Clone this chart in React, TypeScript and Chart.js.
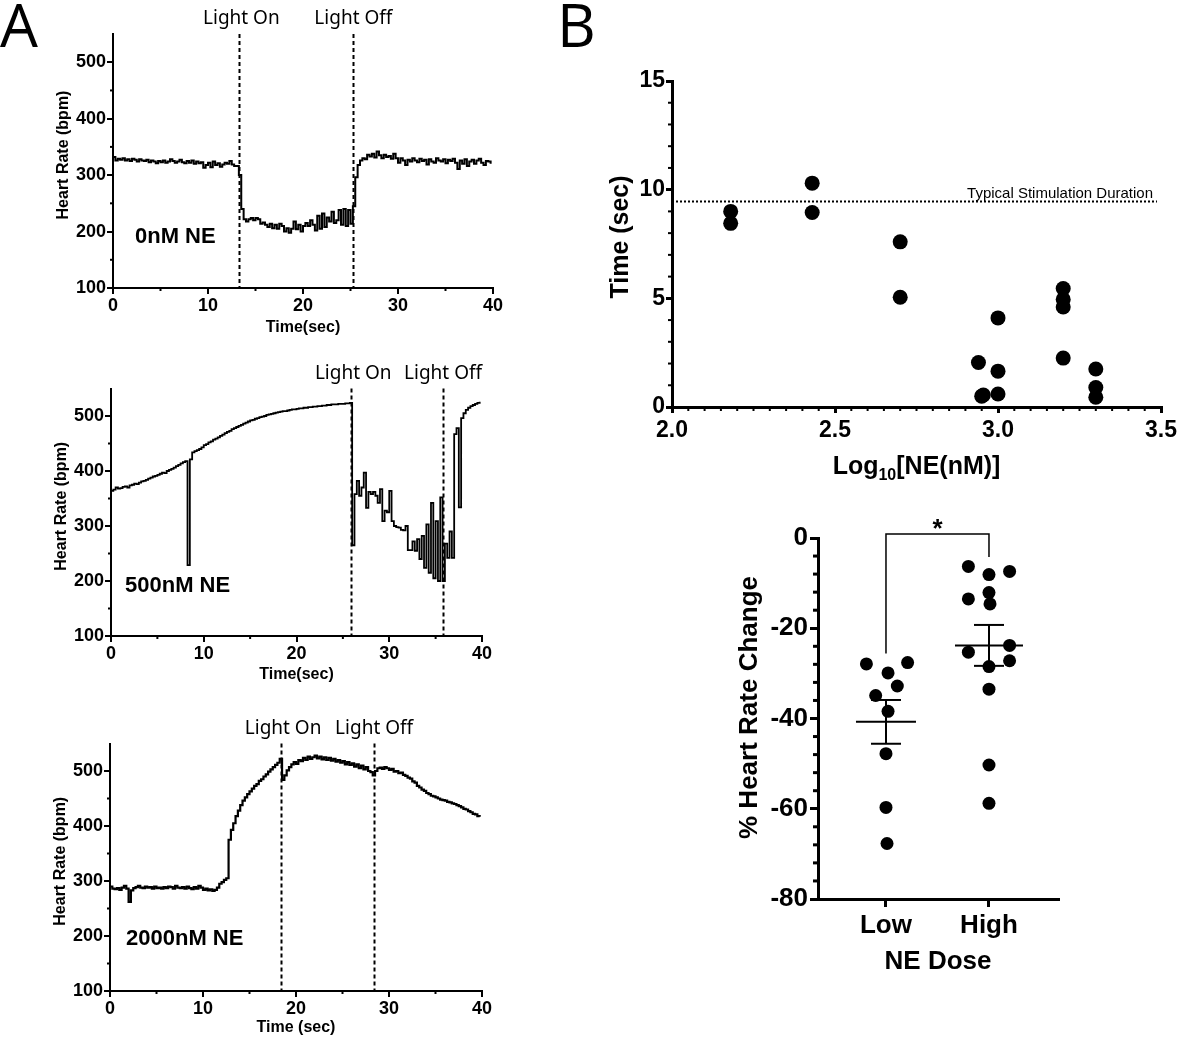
import React, { useEffect, useRef } from "react";
import { Chart, registerables } from "chart.js";
Chart.register(...registerables);

const SANS = '"Liberation Sans", Arial, sans-serif';
const HUMAN = '"Noto Sans", "Open Sans", sans-serif';

// ---------- Panel A data (heart rate, bpm, sampled every SAMPLE_DT s) ----------
const SAMPLE_DT = 0.25;
const hr0nM = [
  332, 326, 329, 327, 330, 326, 328, 325,
  329, 327, 324, 328, 326, 325, 327, 323,
  326, 324, 321, 325, 323, 326, 322, 324,
  328, 325, 322, 324, 327, 323, 321, 325,
  322, 326, 320, 324, 321, 323, 313, 318,
  322, 314, 324, 318, 321, 315, 319, 322,
  320, 325, 319, 316, 316, 300, 240, 222,
  218, 222, 224, 220, 224, 222, 214, 216,
  212, 208, 214, 206, 212, 205, 214, 210,
  200, 206, 198, 205, 218, 204, 212, 200,
  210, 215, 210, 220, 212, 202, 228, 205,
  232, 208, 225, 218, 235, 215, 220, 238,
  212, 240, 210, 238, 214, 245, 296, 318,
  326, 330, 328, 336, 333, 338, 331, 342,
  335, 330, 336, 332, 334, 329, 338, 330,
  322, 330, 326, 318, 327, 324, 330, 326,
  323, 329, 325, 327, 319, 328, 324, 322,
  330, 326, 324, 328, 321, 327, 325, 329,
  322, 311, 326, 320, 328, 316, 324, 327,
  320, 326, 329, 322, 318, 325, 324, 320,
];
const hr500nM = [
  364, 366, 370, 368, 369, 371, 372, 370,
  374, 375, 377, 376, 379, 381, 382, 384,
  386, 388, 390, 391, 393, 395, 397, 396,
  400, 402, 404, 406, 409, 411, 414, 416,
  418, 229, 421, 434, 436, 438, 440, 443,
  447, 449, 452, 454, 457, 459, 461, 464,
  466, 469, 471, 473, 476, 478, 480, 482,
  484, 486, 488, 490, 492, 493, 495, 496,
  498, 499, 500, 502, 503, 504, 505, 506,
  507, 508, 509, 509, 510, 511, 512, 512,
  513, 514, 514, 515, 515, 516, 516, 517,
  517, 518, 518, 519, 519, 520, 520, 521,
  521, 521, 522, 522, 522, 523, 523, 524,
  265, 358, 382, 355, 370, 397, 333, 362,
  358, 362, 355, 342, 367, 309, 328, 325,
  364, 309, 300, 298, 297, 293, 292, 300,
  256, 256, 272, 255, 276, 240, 282, 224,
  303, 215, 342, 205, 309, 200, 352, 200,
  268, 242, 290, 242, 467, 478, 334, 496,
  505, 511, 515, 518, 520, 522, 524, 526,
];
const hr2000nM = [
  290, 286, 285, 287, 284, 288, 291, 286,
  262, 283, 287, 289, 291, 288, 287, 290,
  288, 289, 286, 290, 287, 288, 286, 289,
  287, 290, 289, 286, 291, 288, 287, 289,
  286, 290, 287, 285, 289, 286, 291, 288,
  284, 286, 283, 285, 282, 284, 288, 295,
  298, 302, 305, 375, 393, 405, 418, 428,
  438, 446, 452, 458, 463, 468, 473, 476,
  482, 485, 490, 494, 499, 503, 507, 511,
  515, 522, 484, 492, 501, 507, 512, 516,
  513, 520, 518, 524, 520, 526, 522, 525,
  528, 523, 526, 521, 525, 520, 524, 519,
  522, 517, 520, 515, 518, 512, 516, 511,
  514, 508, 512, 505, 510, 503, 507, 500,
  498, 492, 500, 505, 506, 504, 507, 505,
  502, 504, 499, 500, 496, 497, 493, 491,
  488, 486, 481, 479, 473, 470, 466, 464,
  460, 458, 455, 454, 452, 450, 448, 447,
  446, 444, 443, 441, 440, 438, 436, 434,
  431, 430, 427, 425, 422, 421, 418, 417,
];
const conditionLabels = ["0nM NE", "500nM NE", "2000nM NE"];
const lightOnTimes = [13.3, 25.9, 18.4];
const lightOffTimes = [25.3, 35.8, 28.4];
const timeTitles = ["Time(sec)", "Time(sec)", "Time (sec)"];

// ---------- Panel B (top) data ----------
const logDose = [2.18, 2.18, 2.43, 2.43, 2.7, 2.7, 2.94, 2.955, 2.95, 3.0, 3.0, 3.0, 3.2, 3.2, 3.2, 3.2, 3.3, 3.3, 3.3];
const onsetTime = [9.0, 8.45, 10.3, 8.95, 7.6, 5.05, 2.05, 0.55, 0.5, 4.1, 1.65, 0.6, 5.45, 4.95, 4.6, 2.25, 1.75, 0.9, 0.45];
const typicalDuration = 9.5;

// ---------- Panel B (bottom) data ----------
const doseGroups = ["Low", "High"];
const lowChange = [-27.9, -27.6, -29.9, -32.8, -34.9, -38.4, -47.8, -59.7, -67.7];
const lowJitter = [-0.19, 0.21, 0.02, 0.11, -0.1, 0.02, 0, 0, 0.01];
const highChange = [-6.3, -8.1, -7.4, -12.1, -13.5, -14.6, -25.3, -23.8, -27.2, -28.5, -33.5, -50.3, -58.8];
const highJitter = [-0.2, 0, 0.2, 0, -0.2, 0.01, -0.2, 0.2, 0.2, 0, 0, 0, 0];

// ---------- helpers ----------
type Area = { left: number; top: number; right: number; bottom: number };
type Frame = { x: number; y: number; w: number; h: number; area: Area };

const mean = (a: number[]) => a.reduce((s, v) => s + v, 0) / a.length;
const sem = (a: number[]) => {
  const m = mean(a);
  const sd = Math.sqrt(a.reduce((s, v) => s + (v - m) * (v - m), 0) / (a.length - 1));
  return sd / Math.sqrt(a.length);
};

function layoutFor(f: Frame) {
  return { padding: { left: 0, top: f.area.top - f.y, right: f.x + f.w - f.area.right, bottom: 0 } };
}

function axisBase(lineWidth: number, tickLen: number, fontSize: number, pad: number) {
  return {
    grid: { display: true, drawOnChartArea: false, drawTicks: true, tickLength: tickLen, color: "#000", lineWidth },
    border: { display: true, color: "#000", width: lineWidth },
    ticks: {
      color: "#000",
      font: { family: SANS, size: fontSize, weight: "bold" as const },
      padding: pad,
      autoSkip: false,
      maxRotation: 0,
      minRotation: 0,
    },
  };
}

function minorTicks(ctx: CanvasRenderingContext2D, scale: any, a: Area, axis: "x" | "y", from: number, to: number, step: number, major: number, len: number, lw: number) {
  ctx.save();
  ctx.strokeStyle = "#000";
  ctx.lineWidth = lw;
  const n = Math.round((to - from) / step);
  for (let i = 0; i <= n; i++) {
    const v = from + i * step;
    const r = v / major;
    if (Math.abs(r - Math.round(r)) < 1e-6) continue;
    ctx.beginPath();
    if (axis === "x") {
      const px = scale.getPixelForValue(v);
      ctx.moveTo(px, a.bottom);
      ctx.lineTo(px, a.bottom + len);
    } else {
      const py = scale.getPixelForValue(v);
      ctx.moveTo(a.left, py);
      ctx.lineTo(a.left - len, py);
    }
    ctx.stroke();
  }
  ctx.restore();
}

function ChartBox({ frame, make }: { frame: Frame; make: () => any }) {
  const ref = useRef<HTMLCanvasElement | null>(null);
  useEffect(() => {
    if (!ref.current) return;
    const chart = new Chart(ref.current, make());
    return () => chart.destroy();
  }, []);
  return (
    <div style={{ position: "absolute", left: frame.x, top: frame.y, width: frame.w, height: frame.h }}>
      <canvas ref={ref} width={frame.w} height={frame.h} style={{ width: frame.w, height: frame.h, display: "block" }} />
    </div>
  );
}

// ---------- Panel A trace chart ----------
function traceConfig(f: Frame, idx: number, values: number[], lw: number, labelDx: number, labelDy: number, xTitleDy: number) {
  const on = lightOnTimes[idx];
  const off = lightOffTimes[idx];
  const overlay = {
    id: "overlayA" + idx,
    afterDraw(chart: any) {
      const ctx: CanvasRenderingContext2D = chart.ctx;
      const a = chart.chartArea;
      const x = chart.scales.x;
      const y = chart.scales.y;
      minorTicks(ctx, x, a, "x", 0, 40, 5, 10, 3, 2);
      minorTicks(ctx, y, a, "y", 100, 500, 50, 100, 3, 2);
      ctx.save();
      ctx.strokeStyle = "#000";
      ctx.lineWidth = 2;
      ctx.setLineDash([4, 3]);
      for (const t of [on, off]) {
        const px = Math.round(x.getPixelForValue(t)) + 0.5;
        ctx.beginPath();
        ctx.moveTo(px, a.top);
        ctx.lineTo(px, a.bottom);
        ctx.stroke();
      }
      ctx.setLineDash([]);
      ctx.fillStyle = "#000";
      ctx.font = `19px ${HUMAN}`;
      ctx.textAlign = "center";
      ctx.textBaseline = "middle";
      ctx.fillText("Light On", x.getPixelForValue(on) + 2, a.top - 15);
      ctx.fillText("Light Off", x.getPixelForValue(off), a.top - 15);
      ctx.font = `bold 22px ${SANS}`;
      ctx.textAlign = "left";
      ctx.fillText(conditionLabels[idx], a.left + labelDx, a.bottom - labelDy);
      ctx.font = `bold 16px ${SANS}`;
      ctx.textAlign = "center";
      ctx.fillText(timeTitles[idx], (a.left + a.right) / 2, a.bottom + xTitleDy);
      ctx.translate(a.left - 49, (a.top + a.bottom) / 2 - 6);
      ctx.rotate(-Math.PI / 2);
      ctx.fillText("Heart Rate (bpm)", 0, 0);
      ctx.restore();
    },
  };
  const xb = axisBase(2, 6, 18, 1);
  const yb = axisBase(2, 6, 18, 1);
  return {
    type: "line",
    data: {
      datasets: [
        {
          data: values.map((v, i) => ({ x: i * SAMPLE_DT, y: v })),
          borderColor: "#000",
          borderWidth: lw,
          pointRadius: 0,
          stepped: true,
          fill: false,
        },
      ],
    },
    options: {
      responsive: false,
      animation: false,
      events: [],
      layout: layoutFor(f),
      plugins: { legend: { display: false }, tooltip: { enabled: false } },
      scales: {
        x: {
          type: "linear",
          min: 0,
          max: 40,
          ...xb,
          ticks: { ...xb.ticks, stepSize: 10 },
          afterBuildTicks: (s: any) => { s.ticks = s.ticks.filter((t: any) => t.value % 10 === 0); },
          afterFit: (s: any) => { s.height = f.y + f.h - f.area.bottom; },
        },
        y: {
          type: "linear",
          min: 100,
          max: 550,
          ...yb,
          ticks: { ...yb.ticks, stepSize: 100 },
          afterBuildTicks: (s: any) => { s.ticks = s.ticks.filter((t: any) => t.value % 100 === 0); },
          afterFit: (s: any) => { s.width = f.area.left - f.x; },
        },
      },
    },
    plugins: [overlay],
  };
}

// ---------- Panel B top ----------
function scatterConfig(f: Frame) {
  const overlay = {
    id: "overlayB1",
    afterDraw(chart: any) {
      const ctx: CanvasRenderingContext2D = chart.ctx;
      const a = chart.chartArea;
      const x = chart.scales.x;
      const y = chart.scales.y;
      minorTicks(ctx, x, a, "x", 2, 3.5, 0.05, 0.5, 4, 2);
      minorTicks(ctx, y, a, "y", 0, 15, 1, 5, 4, 2);
      ctx.save();
      ctx.strokeStyle = "#000";
      ctx.lineWidth = 2;
      ctx.setLineDash([2, 2]);
      const py = Math.round(y.getPixelForValue(typicalDuration)) + 0.5;
      ctx.beginPath();
      ctx.moveTo(a.left, py);
      ctx.lineTo(a.right - 4, py);
      ctx.stroke();
      ctx.setLineDash([]);
      ctx.fillStyle = "#000";
      ctx.font = `15px ${SANS}`;
      ctx.textAlign = "right";
      ctx.textBaseline = "alphabetic";
      ctx.fillText("Typical Stimulation Duration", a.right - 8, py - 4);
      // x title with subscript
      const big = `bold 25px ${SANS}`;
      const small = `bold 16px ${SANS}`;
      ctx.font = big;
      const w1 = ctx.measureText("Log").width;
      const w3 = ctx.measureText("[NE(nM)]").width;
      ctx.font = small;
      const w2 = ctx.measureText("10").width;
      const total = w1 + w2 + w3;
      let cx = (a.left + a.right) / 2 - total / 2;
      const base = a.bottom + 67;
      ctx.textAlign = "left";
      ctx.font = big;
      ctx.fillText("Log", cx, base);
      cx += w1;
      ctx.font = small;
      ctx.fillText("10", cx, base + 6);
      cx += w2;
      ctx.font = big;
      ctx.fillText("[NE(nM)]", cx, base);
      // y title
      ctx.textAlign = "center";
      ctx.textBaseline = "middle";
      ctx.translate(a.left - 51, (a.top + a.bottom) / 2 - 7);
      ctx.rotate(-Math.PI / 2);
      ctx.fillText("Time (sec)", 0, 0);
      ctx.restore();
    },
  };
  const xb = axisBase(3, 6, 23, 4);
  const yb = axisBase(3, 6, 23, 1);
  return {
    type: "scatter",
    data: {
      datasets: [
        {
          data: logDose.map((v, i) => ({ x: v, y: onsetTime[i] })),
          backgroundColor: "#000",
          borderColor: "#000",
          pointRadius: 7.5,
          borderWidth: 0,
        },
      ],
    },
    options: {
      responsive: false,
      animation: false,
      events: [],
      layout: layoutFor(f),
      plugins: { legend: { display: false }, tooltip: { enabled: false } },
      scales: {
        x: {
          type: "linear",
          min: 2,
          max: 3.5,
          ...xb,
          ticks: { ...xb.ticks, stepSize: 0.5, callback: (v: any) => Number(v).toFixed(1) },
          afterFit: (s: any) => { s.height = f.y + f.h - f.area.bottom; },
        },
        y: {
          type: "linear",
          min: 0,
          max: 15,
          ...yb,
          ticks: { ...yb.ticks, stepSize: 5 },
          afterFit: (s: any) => { s.width = f.area.left - f.x; },
        },
      },
    },
    plugins: [overlay],
  };
}

// ---------- Panel B bottom ----------
function dotConfig(f: Frame) {
  const overlay = {
    id: "overlayB2",
    afterDraw(chart: any) {
      const ctx: CanvasRenderingContext2D = chart.ctx;
      const a = chart.chartArea;
      const x = chart.scales.x;
      const y = chart.scales.y;
      minorTicks(ctx, y, a, "y", -80, 0, 4, 20, 5, 3);
      ctx.save();
      ctx.strokeStyle = "#000";
      ctx.fillStyle = "#000";
      ctx.lineWidth = 2;
      const line = (x1: number, y1: number, x2: number, y2: number) => {
        ctx.beginPath();
        ctx.moveTo(x1, y1);
        ctx.lineTo(x2, y2);
        ctx.stroke();
      };
      [lowChange, highChange].forEach((vals, gi) => {
        const m = mean(vals);
        const se = sem(vals);
        const cx = x.getPixelForValue(gi);
        const hw = gi === 0 ? 30 : 34;
        const pm = y.getPixelForValue(m);
        const pu = y.getPixelForValue(m + se);
        const pl = y.getPixelForValue(m - se);
        line(cx - hw, pm, cx + hw, pm);
        line(cx, pu, cx, pl);
        line(cx - 15, pu, cx + 15, pu);
        line(cx - 15, pl, cx + 15, pl);
      });
      // significance bracket
      ctx.lineWidth = 1.5;
      const lx = x.getPixelForValue(0);
      const hx = x.getPixelForValue(1);
      const by = y.getPixelForValue(0.9);
      ctx.beginPath();
      ctx.moveTo(lx, y.getPixelForValue(-25.6));
      ctx.lineTo(lx, by);
      ctx.lineTo(hx, by);
      ctx.lineTo(hx, y.getPixelForValue(-4.2));
      ctx.stroke();
      ctx.font = `bold 26px ${SANS}`;
      ctx.textAlign = "center";
      ctx.textBaseline = "alphabetic";
      ctx.fillText("*", (lx + hx) / 2, a.top - 1);
      ctx.textBaseline = "middle";
      ctx.fillText("NE Dose", (a.left + a.right) / 2, a.bottom + 63);
      ctx.translate(a.left - 68, (a.top + a.bottom) / 2 - 11);
      ctx.rotate(-Math.PI / 2);
      ctx.fillText("% Heart Rate Change", 0, 0);
      ctx.restore();
    },
  };
  const xb = axisBase(3, 8, 26, 3);
  const yb = axisBase(3, 8, 26, 2);
  const pts = [
    ...lowChange.map((v, i) => ({ x: 0 + lowJitter[i], y: v })),
    ...highChange.map((v, i) => ({ x: 1 + highJitter[i], y: v })),
  ];
  return {
    type: "scatter",
    data: {
      datasets: [
        { data: pts, backgroundColor: "#000", borderColor: "#000", pointRadius: 6.5, borderWidth: 0 },
      ],
    },
    options: {
      responsive: false,
      animation: false,
      events: [],
      layout: layoutFor(f),
      plugins: { legend: { display: false }, tooltip: { enabled: false } },
      scales: {
        x: {
          type: "linear",
          min: -0.66,
          max: 1.67,
          ...xb,
          ticks: { ...xb.ticks, callback: (v: any) => doseGroups[Math.round(Number(v))] ?? "" },
          afterBuildTicks: (s: any) => { s.ticks = doseGroups.map((_, i) => ({ value: i })); },
          afterFit: (s: any) => { s.height = f.y + f.h - f.area.bottom; },
        },
        y: {
          type: "linear",
          min: -80,
          max: 0,
          ...yb,
          ticks: { ...yb.ticks, stepSize: 20 },
          afterFit: (s: any) => { s.width = f.area.left - f.x; },
        },
      },
    },
    plugins: [overlay],
  };
}

const frameA1: Frame = { x: 0, y: 0, w: 520, h: 345, area: { left: 113, top: 34, right: 493, bottom: 288 } };
const frameA2: Frame = { x: 0, y: 350, w: 520, h: 345, area: { left: 111, top: 388.5, right: 482, bottom: 636 } };
const frameA3: Frame = { x: 0, y: 700, w: 520, h: 337, area: { left: 110, top: 743.5, right: 482, bottom: 991 } };
const frameB1: Frame = { x: 560, y: 40, w: 621, h: 450, area: { left: 672, top: 81, right: 1163, bottom: 407 } };
const frameB2: Frame = { x: 700, y: 500, w: 420, h: 520, area: { left: 818, top: 538, right: 1058, bottom: 899 } };

export default function App() {
  const letter: React.CSSProperties = {
    position: "absolute",
    fontFamily: '"Open Sans", "Noto Sans", sans-serif',
    fontWeight: 400,
    fontSize: 60,
    lineHeight: "60px",
    color: "#000",
    margin: 0,
  };
  return (
    <div style={{ position: "absolute", left: 0, top: 0, width: 1181, height: 1037, background: "#fff", overflow: "hidden" }}>
      <ChartBox frame={frameA1} make={() => traceConfig(frameA1, 0, hr0nM, 2, 22, 51, 40)} />
      <ChartBox frame={frameA2} make={() => traceConfig(frameA2, 1, hr500nM, 1.8, 14, 50, 39)} />
      <ChartBox frame={frameA3} make={() => traceConfig(frameA3, 2, hr2000nM, 2.2, 16, 52, 37)} />
      <ChartBox frame={frameB1} make={() => scatterConfig(frameB1)} />
      <ChartBox frame={frameB2} make={() => dotConfig(frameB2)} />
      <div style={{ ...letter, left: 0, top: -6 }}>A</div>
      <div style={{ ...letter, left: 557, top: -6 }}>B</div>
    </div>
  );
}
